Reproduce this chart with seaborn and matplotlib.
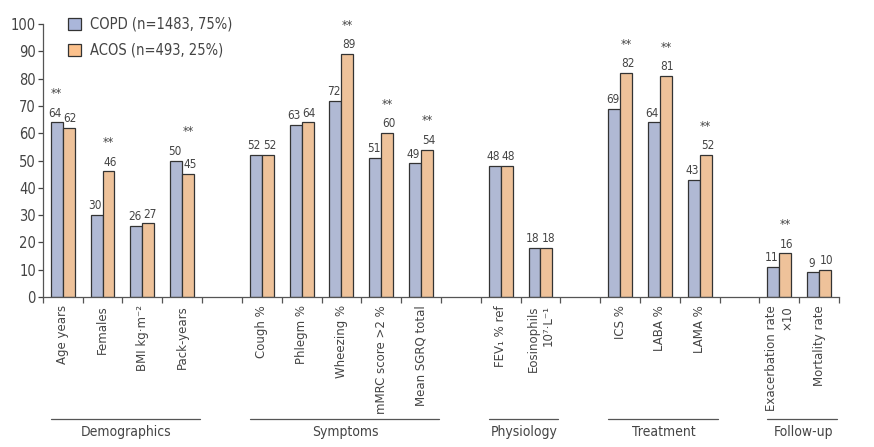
import numpy as np
import pandas as pd
import matplotlib.pyplot as plt
from matplotlib.patches import Patch
import seaborn as sns

sns.set_style("ticks")
plt.rcParams['font.family'] = ['DejaVu Sans']
plt.rcParams['font.stretch'] = 'condensed'

# -----------------------------
# Data
# -----------------------------
items = ["Age years", "Females", "BMI kg·m\u207b\u00b2", "Pack-years",
         "Cough %", "Phlegm %", "Wheezing %", "mMRC score >2 %", "Mean SGRQ total",
         "FEV\u2081 % ref", "Eosinophils\n10\u2077·L\u207b\u00b9",
         "ICS %", "LABA %", "LAMA %",
         "Exacerbation rate\n\u00d710", "Mortality rate"]
copd = [64, 30, 26, 50, 52, 63, 72, 51, 49, 48, 18, 69, 64, 43, 11, 9]
acos = [62, 46, 27, 45, 52, 64, 89, 60, 54, 48, 18, 82, 81, 52, 16, 10]
# which bar carries the "**" marker ("" = none)
stars = ["COPD", "ACOS", "", "ACOS", "", "", "ACOS", "ACOS", "ACOS",
         "", "", "ACOS", "ACOS", "ACOS", "ACOS", ""]
groups = ["Demographics", "Symptoms", "Physiology", "Treatment", "Follow-up"]
group_sizes = [4, 5, 2, 3, 2]

series = ["COPD (n=1483, 75%)", "ACOS (n=493, 25%)"]
colors = ["#aab6da", "#fcc18c"]

# -----------------------------
# Build table + category order with blank spacer slots
# -----------------------------
df = pd.DataFrame({
    "item": items * 2,
    "value": copd + acos,
    "group": [series[0]] * len(items) + [series[1]] * len(items),
})

order = []
group_spans = []
k = 0
for gi, n in enumerate(group_sizes):
    start = len(order)
    order += items[k:k + n]
    group_spans.append((start, len(order) - 1))
    k += n
    if gi < len(group_sizes) - 1:
        order.append(" " * (gi + 1))  # empty spacer slot

# -----------------------------
# Plot
# -----------------------------
fig, ax = plt.subplots(figsize=(8.74, 4.47), dpi=100)
fig.subplots_adjust(left=0.049, right=0.96, bottom=0.3356, top=0.946)

sns.barplot(data=df, x="item", y="value", hue="group", order=order,
            hue_order=series, palette=colors, width=0.6, gap=0,
            edgecolor="#333333", linewidth=0.9, legend=False, ax=ax)

txt = "#444444"
for si, cont in enumerate(ax.containers):
    for bar in cont:
        h = bar.get_height()
        if np.isnan(h):
            continue
        xc = bar.get_x() + bar.get_width() / 2
        nudge = -1.2 if si == 0 else 1.2
        ax.annotate(f"{h:.0f}", (xc, h), xytext=(nudge, 2), textcoords="offset points",
                    ha="center", va="bottom", fontsize=8.5, color=txt)
        name = order[int(round(xc))]
        i = items.index(name)
        if stars[i] == series[si].split()[0]:
            top = max(copd[i], acos[i])
            ax.annotate("**", (xc, top), xytext=(0, 16), textcoords="offset points",
                        ha="center", va="bottom", fontsize=9, color=txt)

ax.set_xlim(-0.5, len(order) - 0.5)
ax.set_ylim(0, 100)
ax.set_yticks(range(0, 101, 10))
ax.tick_params(axis="y", labelsize=10.5, colors=txt, length=3.5, width=0.9, pad=1.5)
ax.set_xticks(range(len(order)))
ax.set_xticklabels([o if o.strip() else "" for o in order], rotation=90,
                   fontsize=8.5, color=txt, fontstretch="normal", ha="center",
                   va="top", multialignment="right")
ax.tick_params(axis="x", which="major", length=0, pad=6)
ax.set_xticks(np.arange(-0.5, len(order), 1), minor=True)
ax.tick_params(axis="x", which="minor", length=4, width=0.9, color="#555555")
ax.set_xlabel("")
ax.set_ylabel("")
sns.despine(ax=ax)
for s in ["left", "bottom"]:
    ax.spines[s].set_color("#555555")
    ax.spines[s].set_linewidth(0.9)

# group brackets below the axis
trans = ax.get_xaxis_transform()
for name, (a, b) in zip(groups, group_spans):
    ax.plot([a - 0.3, b + 0.45], [-0.447, -0.447], color="#555555", lw=0.9,
            transform=trans, clip_on=False)
    ax.text((a + b) / 2 + 0.1, -0.495, name, transform=trans, ha="center",
            va="center", fontsize=10, color=txt)

handles = [Patch(facecolor=c, edgecolor="#333333", linewidth=0.9) for c in colors]
ax.legend(handles, series, loc="upper left", bbox_to_anchor=(0.015, 1.075),
          frameon=False, fontsize=10.5, handlelength=0.9, handleheight=0.9,
          labelcolor=txt, labelspacing=0.75, handletextpad=0.6)

plt.savefig("out.png", dpi=100)
